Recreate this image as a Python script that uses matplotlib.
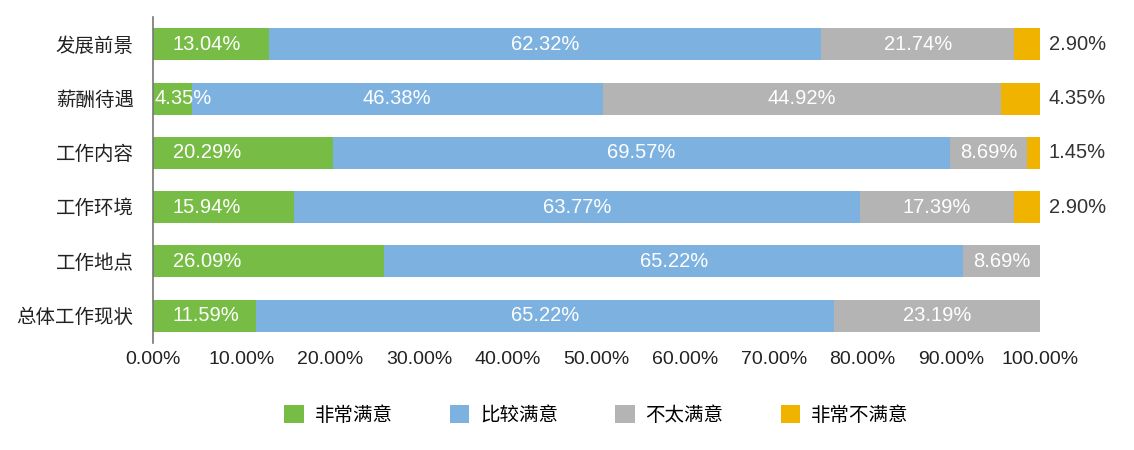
import numpy as np
import matplotlib.pyplot as plt

plt.rcParams['font.family'] = ['Liberation Sans', 'Noto Sans CJK SC', 'DejaVu Sans']

# 数据
categories = ['发展前景', '薪酬待遇', '工作内容', '工作环境', '工作地点', '总体工作现状']
series_names = ['非常满意', '比较满意', '不太满意', '非常不满意']
very_satisfied = [13.04, 4.35, 20.29, 15.94, 26.09, 11.59]
satisfied = [62.32, 46.38, 69.57, 63.77, 65.22, 65.22]
not_satisfied = [21.74, 44.92, 8.69, 17.39, 8.69, 23.19]
very_unsatisfied = [2.90, 4.35, 1.45, 2.90, 0, 0]
xticks = [0, 10, 20, 30, 40, 50, 60, 70, 80, 90, 100]

colors = ['#77BC45', '#7DB2E0', '#B4B4B4', '#F0B400']
series = [very_satisfied, satisfied, not_satisfied, very_unsatisfied]

fig = plt.figure(figsize=(11.34, 4.5), dpi=100)
ax = fig.add_axes([0.135, 0.238, 0.782, 0.724])

y = np.arange(len(categories))[::-1]
left = np.zeros(len(categories))
for i, (vals, c, name) in enumerate(zip(series, colors, series_names)):
    vals = np.array(vals)
    ax.barh(y, vals, left=left, height=0.59, color=c, label=name)
    for yy, l, v in zip(y, left, vals):
        if v <= 0:
            continue
        txt = f'{v:.2f}%'
        if i == 3:
            # 最后一项标在条形右侧
            ax.text(101, yy, txt, ha='left', va='center', fontsize=14.5,
                    color='#333333')
        elif i == 0:
            # 第一项靠左对齐
            x0 = l + (0.2 if v < 6 else 2.2)
            ax.text(x0, yy, txt, ha='left', va='center', fontsize=14.5,
                    color='white')
        else:
            ax.text(l + v / 2, yy, txt, ha='center', va='center',
                    fontsize=14.5, color='white')
    left += vals

ax.set_xlim(0, 100)
ax.set_ylim(-0.5, len(categories) - 0.5)
ax.set_yticks(y)
ax.set_yticklabels(categories, fontsize=14, color='#222222')
ax.set_xticks(xticks)
ax.set_xticklabels([f'{t:.2f}%' for t in xticks], fontsize=14, color='#222222')
ax.tick_params(axis='x', length=0, pad=6)
ax.tick_params(axis='y', length=0, pad=14)

for s in ['top', 'right', 'bottom']:
    ax.spines[s].set_visible(False)
ax.spines['left'].set_color('#777777')
ax.spines['left'].set_linewidth(1.2)

fig.legend(loc='center', bbox_to_anchor=(0.526, 0.078), ncol=4, frameon=False,
           fontsize=14, handlelength=1.0, handleheight=1.0, columnspacing=2.95,
           handletextpad=0.55)

plt.savefig('out.png', dpi=100)
